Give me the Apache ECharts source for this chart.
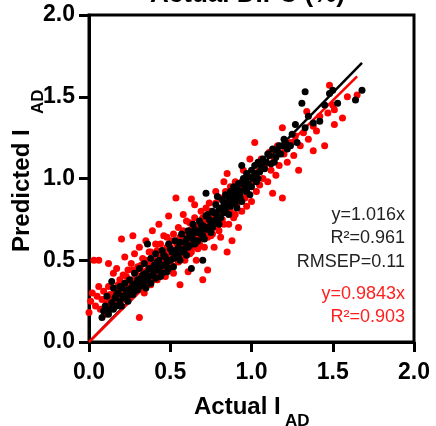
<!DOCTYPE html>
<html><head><meta charset="utf-8">
<script src="https://cdn.jsdelivr.net/npm/echarts@6/dist/echarts.min.js"></script>
<style>html,body{margin:0;padding:0;background:#fff}#c{width:436px;height:426px}</style>
</head><body><div id="c"></div>
<script>
const xTicks = [0, 0.5, 1.0, 1.5, 2.0];
const yTicks = [0, 0.5, 1.0, 1.5, 2.0];
const blackFitSlope = 1.016, blackFitXEnd = 1.68;
const redFitSlope = 0.9843, redFitXEnd = 1.65;
const blackStats = ['y=1.016x', 'R²=0.961', 'RMSEP=0.11'];
const redStats = ['y=0.9843x', 'R²=0.903'];

const blackPoints = [
[0.08,0.15],[0.09,0.19],[0.1,0.22],[0.12,0.17],[0.13,0.2],[0.14,0.24],[0.11,0.28],[0.14,0.37],[0.15,0.33],[0.16,0.27],[0.17,0.22],[0.18,0.3],[0.19,0.25],[0.2,0.33],[0.21,0.28],[0.22,0.36],[0.23,0.31],[0.24,0.25],[0.25,0.38],[0.26,0.33],[0.27,0.29],[0.28,0.42],[0.29,0.36],[0.3,0.32],[0.31,0.45],[0.32,0.39],[0.33,0.35],[0.34,0.48],[0.35,0.42],[0.36,0.6],[0.36,0.38],[0.37,0.45],[0.38,0.51],[0.39,0.41],[0.4,0.47],[0.41,0.54],[0.42,0.44],[0.43,0.5],[0.44,0.4],[0.45,0.56],[0.46,0.47],[0.47,0.52],[0.48,0.43],[0.49,0.6],[0.5,0.5],[0.51,0.55],[0.52,0.46],[0.53,0.62],[0.54,0.53],[0.55,0.58],[0.56,0.5],[0.57,0.66],[0.58,0.56],[0.59,0.61],[0.6,0.53],[0.61,0.68],[0.62,0.59],[0.63,0.45],[0.63,0.64],[0.64,0.72],[0.65,0.6],[0.66,0.67],[0.67,0.62],[0.68,0.74],[0.69,0.66],[0.7,0.5],[0.7,0.71],[0.71,0.63],[0.72,0.91],[0.72,0.77],[0.73,0.7],[0.74,0.75],[0.75,0.67],[0.76,0.8],[0.77,0.73],[0.78,0.84],[0.79,0.89],[0.79,0.77],[0.8,0.72],[0.81,0.82],[0.82,0.87],[0.83,0.79],[0.84,0.9],[0.85,0.84],[0.86,0.78],[0.87,0.92],[0.88,0.86],[0.89,0.95],[0.9,0.89],[0.91,0.82],[0.92,0.97],[0.93,0.91],[0.94,1.08],[0.94,0.86],[0.95,1.0],[0.96,0.94],[0.97,1.03],[0.98,0.97],[0.99,0.9],[1.0,1.05],[1.01,1.0],[1.02,1.08],[1.03,0.98],[1.04,1.1],[1.05,1.04],[1.07,1.12],[1.08,1.06],[1.1,1.15],[1.12,1.09],[1.13,1.18],[1.15,1.13],[1.17,1.2],[1.18,1.15],[1.2,1.24],[1.22,1.18],[1.25,1.27],[1.27,1.33],[1.28,1.22],[1.31,1.46],[1.33,1.53],[1.33,1.31],[1.35,1.38],[1.38,1.34],[1.42,1.35],[1.45,1.45],[1.48,1.52],[1.5,1.54],[1.53,1.46],[1.64,1.48],[1.68,1.54],
[0.15,0.2],[0.17,0.29],[0.19,0.34],[0.2,0.22],[0.22,0.27],[0.24,0.32],[0.25,0.29],[0.27,0.35],[0.28,0.31],[0.3,0.38],[0.31,0.34],[0.33,0.41],[0.34,0.37],[0.35,0.33],[0.37,0.4],[0.38,0.36],[0.4,0.43],[0.41,0.39],[0.42,0.49],[0.44,0.46],[0.45,0.42],[0.46,0.53],[0.48,0.49],[0.49,0.45],[0.5,0.57],[0.52,0.51],[0.53,0.56],[0.55,0.52],[0.56,0.61],[0.57,0.55],[0.59,0.57],[0.6,0.63],[0.61,0.58],[0.62,0.66],[0.64,0.63],[0.65,0.69],[0.66,0.61],[0.68,0.68],[0.69,0.72],[0.7,0.65],[0.72,0.69],[0.73,0.78],[0.75,0.73],[0.76,0.7],[0.77,0.79],[0.78,0.75],[0.8,0.81],[0.81,0.76],[0.83,0.85],[0.84,0.81],[0.86,0.88],[0.87,0.83],[0.89,0.91],[0.9,0.85],[0.92,0.93],[0.93,0.88],[0.95,0.97],[0.97,0.92],[0.98,1.01],[1.0,0.95],[1.02,1.03],[1.04,1.0],[1.06,1.08],[1.09,1.1],[1.11,1.14],[1.14,1.1],[1.16,1.17],[1.19,1.2],[1.21,1.22],[1.24,1.2]
];

const redPoints = [
[0.0,0.18],[0.01,0.25],[0.02,0.3],[0.03,0.5],[0.06,0.5],[0.04,0.22],[0.05,0.28],[0.06,0.34],[0.07,0.2],[0.08,0.26],[0.09,0.31],[0.1,0.17],[0.11,0.24],[0.12,0.34],[0.12,0.48],[0.13,0.29],[0.14,0.21],[0.15,0.42],[0.16,0.31],[0.17,0.45],[0.18,0.25],[0.19,0.38],[0.2,0.63],[0.2,0.3],[0.21,0.41],[0.22,0.52],[0.23,0.35],[0.24,0.44],[0.25,0.28],[0.26,0.48],[0.27,0.65],[0.27,0.38],[0.28,0.54],[0.29,0.33],[0.3,0.46],[0.31,0.15],[0.31,0.58],[0.32,0.4],[0.33,0.51],[0.34,0.3],[0.35,0.62],[0.36,0.44],[0.37,0.55],[0.38,0.35],[0.39,0.68],[0.4,0.5],[0.41,0.6],[0.42,0.38],[0.43,0.72],[0.44,0.53],[0.45,0.45],[0.46,0.65],[0.47,0.4],[0.48,0.58],[0.49,0.77],[0.5,0.48],[0.51,0.62],[0.52,0.42],[0.535,0.88],[0.54,0.56],[0.55,0.7],[0.56,0.35],[0.57,0.6],[0.58,0.78],[0.59,0.5],[0.6,0.66],[0.61,0.43],[0.62,0.73],[0.63,0.875],[0.63,0.55],[0.64,0.64],[0.65,0.84],[0.66,0.5],[0.67,0.7],[0.68,0.6],[0.69,0.8],[0.7,0.38],[0.7,0.68],[0.71,0.58],[0.72,0.75],[0.73,0.44],[0.74,0.85],[0.75,0.65],[0.76,0.72],[0.77,0.58],[0.78,0.92],[0.79,0.7],[0.8,0.8],[0.81,0.64],[0.82,0.75],[0.83,0.98],[0.84,0.85],[0.85,1.03],[0.85,0.55],[0.86,0.72],[0.87,0.8],[0.88,0.62],[0.88,0.9],[0.89,0.76],[0.9,0.98],[0.91,0.84],[0.92,0.7],[0.93,0.93],[0.94,0.8],[0.95,1.05],[0.96,0.88],[0.97,0.83],[0.98,0.95],[0.99,1.12],[1.0,0.86],[1.01,0.98],[1.02,1.22],[1.03,0.92],[1.04,1.04],[1.05,0.96],[1.06,1.12],[1.07,1.0],[1.08,1.08],[1.1,0.98],[1.11,1.16],[1.12,1.05],[1.13,0.91],[1.14,1.12],[1.15,1.02],[1.16,1.2],[1.17,1.08],[1.19,0.88],[1.19,1.31],[1.2,1.15],[1.22,1.1],[1.24,1.22],[1.26,1.14],[1.27,1.26],[1.29,1.05],[1.3,1.2],[1.32,1.28],[1.34,1.41],[1.35,1.24],[1.38,1.17],[1.38,1.32],[1.4,1.29],[1.42,1.38],[1.45,1.2],[1.47,1.4],[1.48,1.57],[1.5,1.45],[1.51,1.33],[1.51,1.42],[1.56,1.37],[1.59,1.5],[1.65,1.51],
[0.13,0.25],[0.15,0.27],[0.16,0.22],[0.18,0.35],[0.19,0.28],[0.21,0.33],[0.22,0.26],[0.23,0.4],[0.24,0.36],[0.26,0.31],[0.27,0.44],[0.28,0.37],[0.29,0.42],[0.3,0.35],[0.32,0.47],[0.33,0.36],[0.34,0.43],[0.35,0.5],[0.36,0.39],[0.37,0.47],[0.38,0.55],[0.39,0.44],[0.4,0.38],[0.41,0.47],[0.42,0.56],[0.43,0.46],[0.44,0.6],[0.45,0.5],[0.46,0.43],[0.47,0.55],[0.48,0.64],[0.49,0.52],[0.5,0.58],[0.51,0.47],[0.52,0.66],[0.53,0.53],[0.54,0.6],[0.55,0.49],[0.56,0.64],[0.57,0.53],[0.58,0.68],[0.59,0.58],[0.6,0.74],[0.61,0.62],[0.62,0.54],[0.63,0.69],[0.64,0.58],[0.65,0.76],[0.66,0.64],[0.67,0.57],[0.68,0.72],[0.69,0.63],[0.7,0.76],[0.71,0.67],[0.72,0.82],[0.73,0.64],[0.74,0.72],[0.75,0.8],[0.76,0.66],[0.77,0.76],[0.78,0.85],[0.79,0.74],[0.8,0.68],[0.81,0.88],[0.82,0.79],[0.83,0.72],[0.84,0.92],[0.86,0.83],[0.87,0.95],[0.89,0.85],[0.9,0.78],[0.92,0.88],[0.94,0.98],[0.96,0.92]
];

const FONT = 'Liberation Sans, Arial, Helvetica, sans-serif';
const chart = echarts.init(document.getElementById('c'), null, {renderer: 'canvas'});

const axisCommon = {
  type: 'value', min: 0, max: 2, interval: 0.5,
  axisLine: {show: true, lineStyle: {color: '#000', width: 3}},
  axisTick: {show: true, length: 10, inside: false, lineStyle: {color: '#000', width: 3}},
  splitLine: {show: false},
  axisLabel: {color: '#000', fontFamily: FONT, fontWeight: 'bold', fontSize: 23,
    formatter: v => v.toFixed(1)}
};

const statGraphics = [];
blackStats.forEach((t, i) => statGraphics.push({type: 'text', right: 31, top: 206 + i * 23.5,
  style: {text: t, fill: '#222', font: '18px ' + FONT}}));
redStats.forEach((t, i) => statGraphics.push({type: 'text', right: 31, top: 285 + i * 23,
  style: {text: t, fill: '#ff2020', font: '18px ' + FONT}}));

chart.setOption({
  animation: false,
  backgroundColor: '#fff',
  grid: {left: 89, right: 22, top: 15, bottom: 84, show: true, borderColor: '#000', borderWidth: 3},
  xAxis: Object.assign({}, axisCommon, {axisLabel: Object.assign({}, axisCommon.axisLabel, {margin: 19})}),
  yAxis: Object.assign({}, axisCommon, {axisLabel: Object.assign({}, axisCommon.axisLabel, {margin: 14})}),
  graphic: [
    {type: 'text', left: 150, top: -18, style: {text: 'Actual DIFC (%)', fill: '#000', font: 'bold 26px ' + FONT}},
    {type: 'text', left: 194, top: 395, style: {text: 'Actual I', fill: '#000', font: 'bold 24px ' + FONT}},
    {type: 'text', left: 285, top: 413, style: {text: 'AD', fill: '#000', font: 'bold 17px ' + FONT}},
    {type: 'text', x: 10, y: 252, rotation: Math.PI / 2, style: {text: 'Predicted I', fill: '#000', font: 'bold 24px ' + FONT, textAlign: 'left', textVerticalAlign: 'top'}},
    {type: 'text', x: 30, y: 114, rotation: Math.PI / 2, style: {text: 'AD', fill: '#000', font: 'bold 17px ' + FONT, textAlign: 'left', textVerticalAlign: 'top'}}
  ].concat(statGraphics),
  series: [
    {type: 'line', data: [[0, 0], [blackFitXEnd, blackFitSlope * blackFitXEnd]], symbol: 'none',
      lineStyle: {color: '#000', width: 2.5}, z: 2},
    {type: 'line', data: [[0, 0], [redFitXEnd, redFitSlope * redFitXEnd]], symbol: 'none',
      lineStyle: {color: '#ff0000', width: 2.5}, z: 2},
    {type: 'scatter', data: redPoints, symbolSize: 7, itemStyle: {color: '#ff0000', opacity: 1}, z: 3},
    {type: 'scatter', data: blackPoints, symbolSize: 7, itemStyle: {color: '#000', opacity: 1}, z: 3}
  ]
});
</script></body></html>
